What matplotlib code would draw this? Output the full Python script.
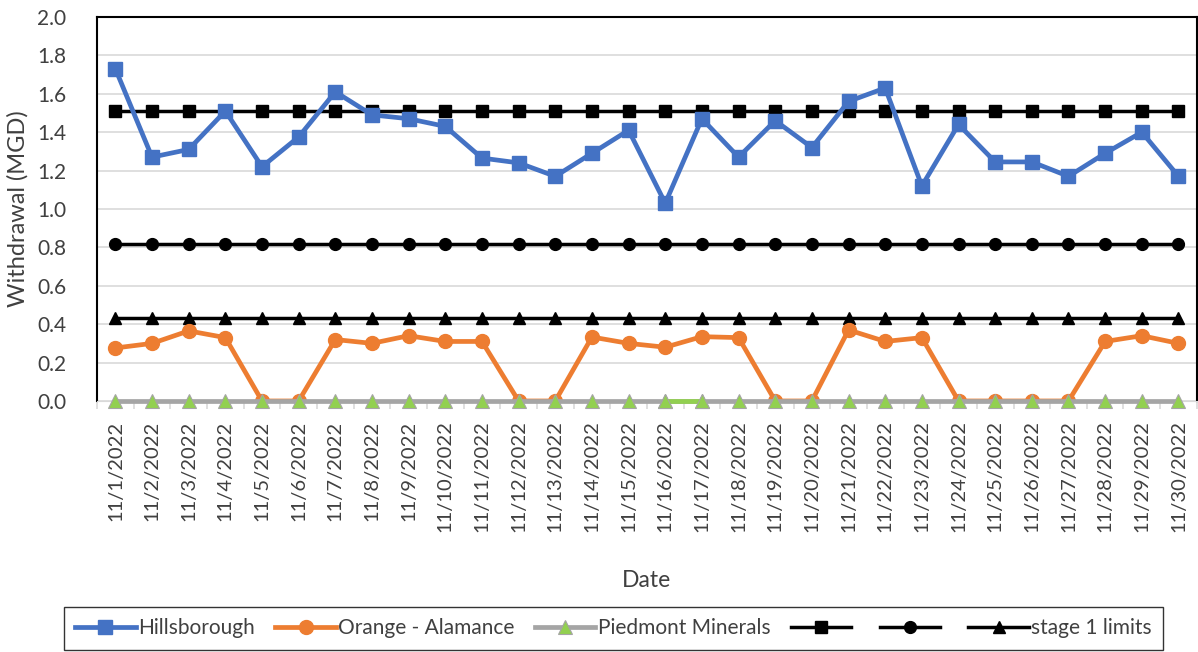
import numpy as np
import matplotlib.pyplot as plt
from matplotlib.ticker import MultipleLocator, FixedLocator

plt.rcParams['font.family'] = ['Lato', 'DejaVu Sans']

dates = [f'11/{d}/2022' for d in range(1, 31)]

hillsborough = [1.73, 1.27, 1.31, 1.51, 1.22, 1.375, 1.61, 1.49, 1.47, 1.43,
                1.265, 1.24, 1.17, 1.29, 1.41, 1.03, 1.47, 1.27, 1.46, 1.32,
                1.56, 1.63, 1.12, 1.44, 1.245, 1.245, 1.17, 1.29, 1.40, 1.17]
orange_alamance = [0.276, 0.30, 0.365, 0.33, 0.0, 0.0, 0.32, 0.30, 0.34, 0.31,
                   0.31, 0.0, 0.0, 0.333, 0.30, 0.28, 0.335, 0.33, 0.0, 0.0,
                   0.37, 0.31, 0.33, 0.0, 0.0, 0.0, 0.0, 0.31, 0.34, 0.30]
piedmont = [0.0] * 30
limit_hills = [1.51] * 30
limit_orange = [0.82] * 30
limit_piedmont = [0.43] * 30

x = np.arange(len(dates))

fig = plt.figure(figsize=(11.98, 6.52), dpi=100)
ax = fig.add_axes([0.081, 0.385, 0.918, 0.589])

blue = '#4472C4'
orng = '#ED7D31'
gray = '#A5A5A5'
green = '#92D050'

l1, = ax.plot(x, hillsborough, color=blue, lw=3.4, marker='s', ms=10, zorder=4)
l2, = ax.plot(x, orange_alamance, color=orng, lw=3.4, marker='o', ms=10, zorder=4)
l3, = ax.plot(x, piedmont, color=gray, lw=3.4, marker='^', ms=10,
              mfc=green, mec=gray, mew=0.8, zorder=5, clip_on=False)
# green segment between 11/16 and 11/17
ax.plot(x[15:17], piedmont[15:17], color=green, lw=3.4, zorder=5,
        solid_capstyle='butt', clip_on=False)
ax.plot(x[15:17], piedmont[15:17], ls='none', marker='^', ms=10, mfc=green,
        mec=gray, mew=0.8, zorder=6, clip_on=False)
l4, = ax.plot(x, limit_hills, color='black', lw=2.5, marker='s', ms=8.5, zorder=3)
l5, = ax.plot(x, limit_orange, color='black', lw=2.5, marker='o', ms=8.5, zorder=3)
l6, = ax.plot(x, limit_piedmont, color='black', lw=2.5, marker='^', ms=8.5, zorder=3)

ax.set_xlim(-0.5, len(dates) - 0.5)
ax.set_ylim(0, 2.0)
ax.yaxis.set_major_locator(MultipleLocator(0.2))
ax.yaxis.set_major_formatter(plt.FuncFormatter(lambda v, p: f'{v:.1f}'))
ax.grid(axis='y', color='#D9D9D9', lw=1.2, zorder=0)
ax.set_axisbelow(True)

ax.set_xticks(x)
ax.set_xticklabels(dates, rotation=90, fontsize=14.5, color='#404040')
ax.tick_params(axis='x', length=0, pad=14)
ax.xaxis.set_minor_locator(FixedLocator(np.arange(-0.5, len(dates), 1)))
ax.tick_params(axis='x', which='minor', length=6, color='#D9D9D9', width=1.2)
ax.tick_params(axis='y', length=0, labelsize=15, labelcolor='#404040', pad=22)

for s in ['top', 'left', 'right']:
    ax.spines[s].set_color('black')
    ax.spines[s].set_linewidth(1.5)
ax.spines['bottom'].set_color('#D9D9D9')

ax.set_ylabel('Withdrawal (MGD)', fontsize=17, color='#404040', labelpad=6)
ax.set_xlabel('Date', fontsize=16.5, color='#404040', labelpad=27)

leg = fig.legend([l1, l2, l3, l4, l5, l6],
                 ['Hillsborough', 'Orange - Alamance', 'Piedmont Minerals', ' ', ' ', 'stage 1 limits'],
                 loc='upper center', bbox_to_anchor=(0.512, 0.069), ncol=6,
                 fontsize=15, frameon=True, fancybox=False, edgecolor='black',
                 handlelength=2.9, handletextpad=0.1, columnspacing=1.0,
                 borderpad=0.55, borderaxespad=0)
leg.get_frame().set_linewidth(1.0)
for t in leg.get_texts():
    t.set_color('#404040')

fig.savefig('out.png', dpi=100)
